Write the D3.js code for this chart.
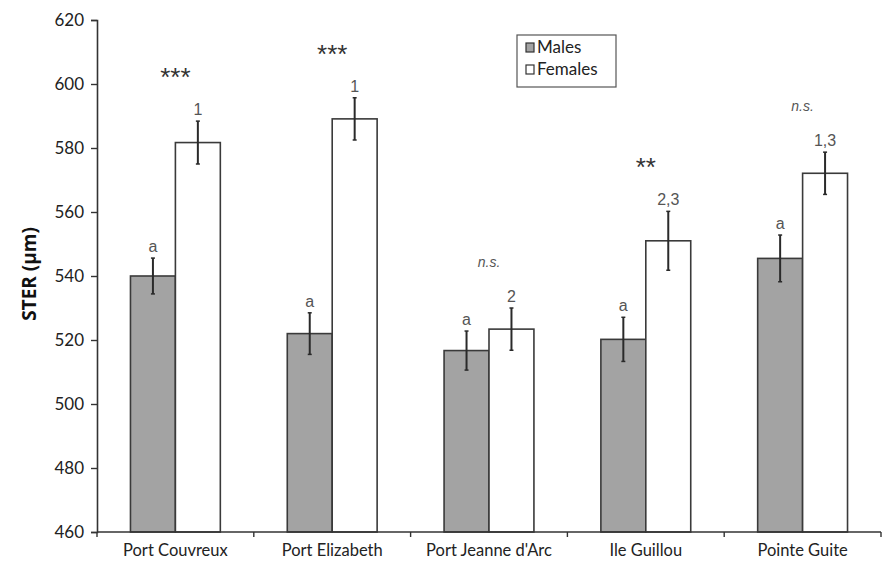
<!DOCTYPE html>
<html><head><meta charset="utf-8">
<script src="https://cdn.jsdelivr.net/npm/d3@7"></script>
<style>body{margin:0;background:#fff;}svg{display:block;}</style>
</head><body>
<svg id="c" width="882" height="565"></svg>
<script>
const categories = ["Port Couvreux","Port Elizabeth","Port Jeanne d'Arc","Ile Guillou","Pointe Guite"];
const series = ["Males","Females"];
const maleValues = [540, 522, 516.7, 520.2, 545.5];
const maleErrors = [5.6, 6.5, 6.1, 6.9, 7.3];
const femaleValues = [581.7, 589.1, 523.4, 551, 572.1];
const femaleErrors = [6.7, 6.6, 6.6, 9.2, 6.6];
const maleLetters = ["a","a","a","a","a"];
const femaleLetters = ["1","1","2","2,3","1,3"];
const significance = ["***","***","n.s.","**","n.s."];
const yTicks = [460,480,500,520,540,560,580,600,620];

const svg = d3.select("#c");
const L = 97, R = 881, T = 20, B = 532;
const y = d3.scaleLinear().domain([460,620]).range([B,T]);
const x = d3.scaleBand().domain(categories).range([L,R]).paddingInner(0).paddingOuter(0);
const xi = d3.scaleBand().domain(series).range([0,x.bandwidth()]).paddingInner(0).paddingOuter(0.745);

const fills = {Males:"#a3a3a3", Females:"#ffffff"};
const data = categories.map((c,i)=>({
  cat:c,
  vals:[
    {s:"Males", v:maleValues[i], e:maleErrors[i], lab:maleLetters[i]},
    {s:"Females", v:femaleValues[i], e:femaleErrors[i], lab:femaleLetters[i]}
  ],
  sig:significance[i]
}));

const g = svg.append("g");
const groups = g.selectAll("g.cat").data(data).join("g")
  .attr("transform", d=>`translate(${x(d.cat)},0)`);

groups.selectAll("rect").data(d=>d.vals).join("rect")
  .attr("x", d=>xi(d.s)).attr("width", xi.bandwidth())
  .attr("y", d=>y(d.v)).attr("height", d=>B - y(d.v))
  .attr("fill", d=>fills[d.s]).attr("stroke","#3a3a3a").attr("stroke-width",1.6);

// error bars
const eb = groups.selectAll("g.eb").data(d=>d.vals).join("g").attr("class","eb");
eb.append("line")
  .attr("x1", d=>xi(d.s)+xi.bandwidth()/2).attr("x2", d=>xi(d.s)+xi.bandwidth()/2)
  .attr("y1", d=>y(d.v+d.e)).attr("y2", d=>y(d.v-d.e))
  .attr("stroke","#2a2a2a").attr("stroke-width",2);
eb.selectAll("line.cap").data(d=>[d.v+d.e,d.v-d.e].map(t=>({t, cx:xi(d.s)+xi.bandwidth()/2}))).join("line")
  .attr("class","cap")
  .attr("x1", d=>d.cx-2).attr("x2", d=>d.cx+2)
  .attr("y1", d=>y(d.t)).attr("y2", d=>y(d.t))
  .attr("stroke","#2a2a2a").attr("stroke-width",1.5);
eb.append("text")
  .attr("x", d=>xi(d.s)+xi.bandwidth()/2)
  .attr("y", d=>y(d.v+d.e)-6)
  .attr("text-anchor","middle")
  .attr("font-family","Liberation Sans, Arial, sans-serif")
  .attr("font-size",16).attr("fill","#555")
  .text(d=>d.lab);

// significance
groups.append("text")
  .attr("x", x.bandwidth()/2)
  .attr("y", d=>y(d.vals[1].v+d.vals[1].e) - (d.sig.indexOf("*")>=0 ? 35 : 41))
  .attr("text-anchor","middle")
  .attr("font-family","Liberation Sans, Arial, sans-serif")
  .attr("font-size", d=>d.sig.indexOf("*")>=0 ? 26 : 14)
  .attr("font-style", d=>d.sig.indexOf("*")>=0 ? "normal" : "italic")
  .attr("fill", d=>d.sig.indexOf("*")>=0 ? "#333" : "#555")
  .text(d=>d.sig);

// axes
const yAxis = d3.axisLeft(y).tickValues(yTicks).tickSize(6).tickPadding(7);
const ya = svg.append("g").attr("transform",`translate(${L},0)`).call(yAxis);
ya.select(".domain").attr("stroke","#333").attr("stroke-width",1.6);
ya.selectAll(".tick line").attr("stroke","#333").attr("stroke-width",1.4);
ya.selectAll("text").attr("font-family","Lato, 'Open Sans', sans-serif").attr("font-size",17).attr("fill","#222");

const xa = svg.append("g").attr("transform",`translate(0,${B})`);
xa.append("line").attr("x1",L).attr("x2",R).attr("y1",0).attr("y2",0).attr("stroke","#333").attr("stroke-width",1.6);
xa.selectAll("line.t").data(categories.concat(["_end"])).join("line").attr("class","t")
  .attr("x1", d=> d==="_end" ? R : x(d)).attr("x2", d=> d==="_end" ? R : x(d))
  .attr("y1",0).attr("y2",5).attr("stroke","#333").attr("stroke-width",1.4);
xa.selectAll("text").data(categories).join("text")
  .attr("x", d=>x(d)+x.bandwidth()/2).attr("y",24)
  .attr("text-anchor","middle")
  .attr("font-family","Lato, 'Open Sans', sans-serif").attr("font-size",16.5).attr("fill","#222")
  .text(d=>d);

// y title
svg.append("text").attr("transform","translate(36,274) rotate(-90)")
  .attr("text-anchor","middle")
  .attr("font-family","'Open Sans', Lato, sans-serif").attr("font-weight","bold")
  .attr("font-size",19).attr("fill","#111")
  .text("STER (µm)");

// legend
const lg = svg.append("g").attr("transform","translate(517,35)");
lg.append("rect").attr("width",99).attr("height",52).attr("fill","#fff").attr("stroke","#555").attr("stroke-width",1.2);
const li = lg.selectAll("g").data(series).join("g").attr("transform",(d,i)=>`translate(9,${8+i*22})`);
li.append("rect").attr("width",8).attr("height",9).attr("fill",d=>fills[d]).attr("stroke","#333").attr("stroke-width",1.2);
li.append("text").attr("x",11).attr("y",10).attr("font-family","Lato, 'Open Sans', sans-serif").attr("font-size",17).attr("fill","#222").text(d=>d);
</script>
</body></html>
